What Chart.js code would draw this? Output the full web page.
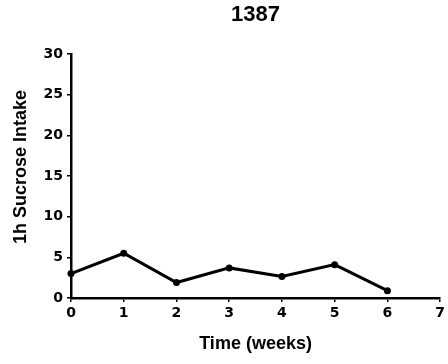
<!DOCTYPE html>
<html>
<head>
<meta charset="utf-8">
<script src="https://cdn.jsdelivr.net/npm/chart.js@4"></script>
<style>
  html, body { margin: 0; padding: 0; background: #fff; }
  #wrap { width: 448px; height: 364px; }
</style>
</head>
<body>
<div id="wrap"><canvas id="chart" width="448" height="364"></canvas></div>
<script>
// Data
const weeks = [0, 1, 2, 3, 4, 5, 6];
const intake = [3.0, 5.5, 1.9, 3.7, 2.65, 4.1, 0.9];
const xTicks = [0, 1, 2, 3, 4, 5, 6, 7];
const yTicks = [0, 5, 10, 15, 20, 25, 30];
const chartTitle = '1387';
const xTitle = 'Time (weeks)';
const yTitle = '1h Sucrose Intake';

const tickFont = { family: 'DejaVu Sans', weight: 'bold', size: 14 };

// y axis title drawn by hand so it sits where the reference has it
const yTitlePlugin = {
    id: 'yTitle',
    afterDraw(chart) {
        const ctx = chart.ctx;
        ctx.save();
        ctx.translate(21, 167);
        ctx.rotate(-Math.PI / 2);
        ctx.font = 'bold 18px "Liberation Sans", Arial, sans-serif';
        ctx.fillStyle = '#000';
        ctx.textAlign = 'center';
        ctx.textBaseline = 'middle';
        ctx.fillText(yTitle, 0, 0);
        ctx.restore();
    }
};

document.addEventListener('DOMContentLoaded', function() {
    const canvas = document.getElementById('chart').getContext('2d');

    new Chart(canvas, {
        type: 'scatter',
        data: {
            datasets: [{
                data: weeks.map((w, i) => ({ x: w, y: intake[i] })),
                showLine: true,
                borderColor: '#000',
                backgroundColor: '#000',
                borderWidth: 3,
                pointRadius: 3.5,
                pointBorderWidth: 0,
                clip: false
            }]
        },
        options: {
            responsive: false,
            animation: false,
            layout: { padding: { left: 0, right: 5, top: 0, bottom: 0 } },
            plugins: {
                legend: { display: false },
                tooltip: { enabled: false },
                title: {
                    display: true,
                    text: chartTitle,
                    fullSize: false,
                    color: '#000',
                    font: { family: 'Liberation Sans', weight: 'bold', size: 22 },
                    padding: { top: 2, bottom: 25.6 }
                }
            },
            scales: {
                x: {
                    type: 'linear',
                    min: xTicks[0],
                    max: xTicks[xTicks.length - 1],
                    afterBuildTicks: (scale) => { scale.ticks = xTicks.map(v => ({ value: v })); },
                    afterFit: (scale) => { scale.height = 66; },
                    border: { display: true, color: '#000', width: 2.5 },
                    grid: { drawOnChartArea: false, color: '#000', lineWidth: 1.5, tickLength: 4 },
                    ticks: { color: '#000', font: tickFont, padding: 3, maxRotation: 0 },
                    title: {
                        display: true,
                        text: xTitle,
                        color: '#000',
                        font: { family: 'Liberation Sans', weight: 'bold', size: 18 },
                        padding: { top: 0, bottom: 9 }
                    }
                },
                y: {
                    min: yTicks[0],
                    max: yTicks[yTicks.length - 1],
                    afterBuildTicks: (scale) => { scale.ticks = yTicks.map(v => ({ value: v })); },
                    afterFit: (scale) => { scale.width = 71; },
                    border: { display: true, color: '#000', width: 2.5 },
                    grid: { drawOnChartArea: false, color: '#000', lineWidth: 1.5, tickLength: 4 },
                    ticks: { color: '#000', font: tickFont, padding: 4 }
                }
            }
        },
        plugins: [yTitlePlugin]
    });
});
</script>
</body>
</html>
